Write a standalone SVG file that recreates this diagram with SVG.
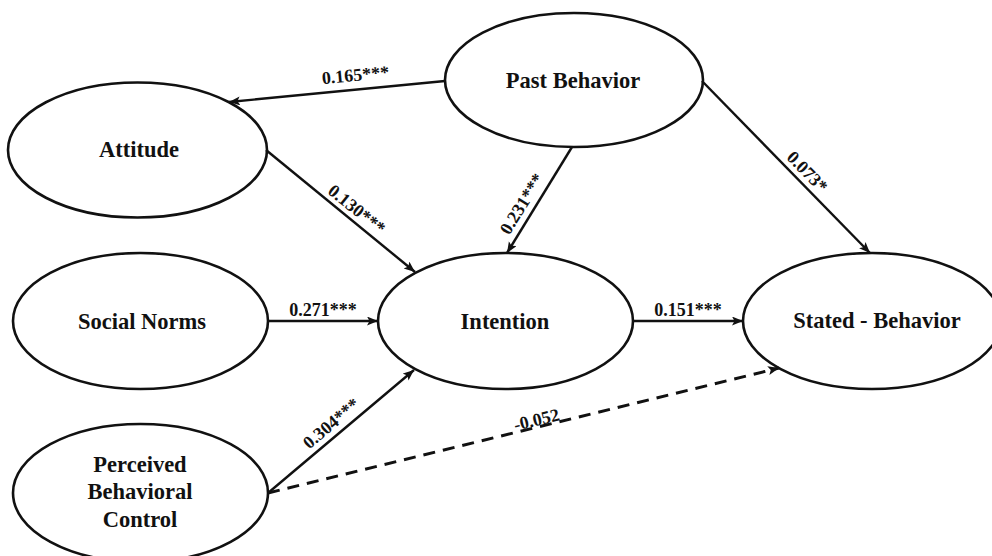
<svg xmlns="http://www.w3.org/2000/svg" width="992" height="556" viewBox="0 0 992 556">
  <style>
    .node ellipse { fill: #ffffff; stroke: #111111; stroke-width: 2.6; }
    .node text { font-family: "Liberation Serif", "DejaVu Serif", serif; font-weight: bold; font-size: 22.5px; fill: #111111; text-anchor: middle; }
    .edge { fill: none; stroke: #111111; stroke-width: 2.4; }
    .edge.dashed { stroke-width: 3; stroke-dasharray: 12 8; }
    .coef { font-family: "Liberation Serif", "DejaVu Serif", serif; font-weight: bold; font-size: 18px; fill: #111111; text-anchor: middle; }
  </style>
  <defs>
    <marker id="arrow" markerWidth="12" markerHeight="10" refX="11" refY="4.5" orient="auto" markerUnits="userSpaceOnUse">
      <path d="M0,0 L11,4.5 L0,9 L2.5,4.5 z" fill="#111111"/>
    </marker>
  </defs>

  <rect width="992" height="556" fill="#ffffff"/>

  <!-- constructs -->
  <g id="past-behavior" class="node">
    <ellipse cx="574" cy="80" rx="129" ry="67"/>
    <text x="573" y="88">Past Behavior</text>
  </g>
  <g id="attitude" class="node">
    <ellipse cx="137.5" cy="150" rx="129.5" ry="67.5"/>
    <text x="139" y="157">Attitude</text>
  </g>
  <g id="social-norms" class="node">
    <ellipse cx="140.5" cy="321" rx="127.5" ry="68"/>
    <text x="142" y="329">Social Norms</text>
  </g>
  <g id="intention" class="node">
    <ellipse cx="505.5" cy="321" rx="127.5" ry="68"/>
    <text x="505" y="329">Intention</text>
  </g>
  <g id="stated-behavior" class="node">
    <ellipse cx="872" cy="321" rx="129" ry="68"/>
    <text x="877" y="328">Stated - Behavior</text>
  </g>
  <g id="perceived-behavioral-control" class="node">
    <ellipse cx="140.5" cy="493" rx="127.5" ry="69"/>
    <text x="140" y="472">Perceived</text>
    <text x="140" y="499">Behavioral</text>
    <text x="140" y="527">Control</text>
  </g>

  <!-- paths and coefficients -->
  <g id="connectors">
    <line class="edge" x1="445" y1="81" x2="229" y2="102" marker-end="url(#arrow)"/>
    <text class="coef" x="356" y="81" transform="rotate(-5.5 356 81)">0.165***</text>

    <line class="edge" x1="266" y1="150" x2="415" y2="272" marker-end="url(#arrow)"/>
    <text class="coef" x="353" y="214" transform="rotate(39.1 353 214)">0.130***</text>

    <line class="edge" x1="572" y1="147" x2="507" y2="253" marker-end="url(#arrow)"/>
    <text class="coef" x="527" y="207" transform="rotate(-58.2 527 207)">0.231***</text>

    <line class="edge" x1="702" y1="81" x2="870" y2="253" marker-end="url(#arrow)"/>
    <text class="coef" x="803" y="176" transform="rotate(45.5 803 176)">0.073*</text>

    <line class="edge" x1="268" y1="321" x2="378" y2="321" marker-end="url(#arrow)"/>
    <text class="coef" x="323" y="315.5">0.271***</text>

    <line class="edge" x1="633" y1="321" x2="743" y2="321" marker-end="url(#arrow)"/>
    <text class="coef" x="688" y="315.5">0.151***</text>

    <line class="edge" x1="268" y1="493" x2="414" y2="370" marker-end="url(#arrow)"/>
    <text class="coef" x="335" y="428" transform="rotate(-40.1 335 428)">0.304***</text>

    <line class="edge dashed" x1="268" y1="493" x2="779" y2="368" marker-end="url(#arrow)"/>
    <text class="coef" x="538" y="425.5" transform="rotate(-13.7 538 425.5)">-0.052</text>
  </g>
</svg>
